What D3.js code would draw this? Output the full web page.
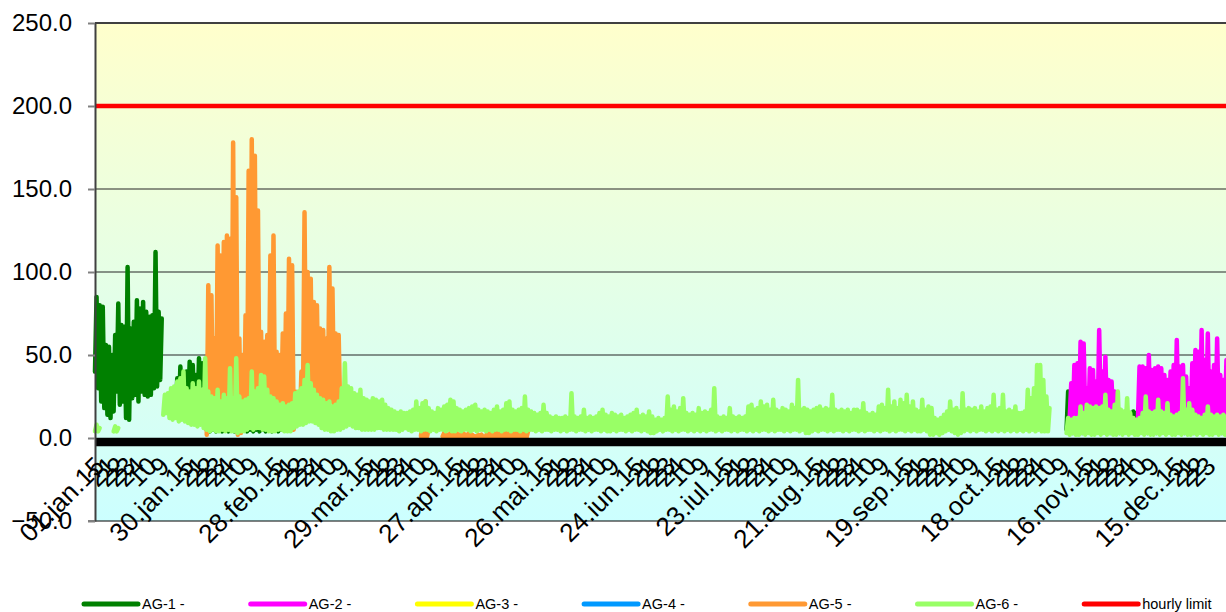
<!DOCTYPE html>
<html>
<head>
<meta charset="utf-8">
<script src="https://cdn.jsdelivr.net/npm/d3@7"></script>
<style>
  body { margin: 0; background: #fff; }
  svg text { font-family: "Liberation Sans", Arial, sans-serif; }
</style>
</head>
<body>
<div id="chart"></div>
<script>
// axis values
const yTicks = [-50, 0, 50, 100, 150, 200, 250];
const hourlyLimit = 200;
const majorDays = [0, 29, 58, 87, 116, 145, 174, 203, 232, 261, 290, 319, 348];
const majorLabels = ["01.jan.15", "30.jan.15", "28.feb.15", "29.mar.15", "27.apr.15", "26.mai.15",
  "24.iun.15", "23.iul.15", "21.aug.15", "19.sep.15", "18.oct.15", "16.nov.15", "15.dec.15"];
const minorLabels = ["21", "22", "23", "24", "10", "9"];
const minorOffsets = [4, 7, 10, 13, 17, 21];

const seriesNames = ["AG-1 -", "AG-2 -", "AG-3 -", "AG-4 -", "AG-5 -", "AG-6 -", "hourly limit"];
const seriesColors = ["#008000", "#ff00ff", "#ffff00", "#0099ff", "#ff9933", "#99ff66", "#ff0000"];

// daily high / low readings (µg/m3), each block starts at a day of the year
const ag1JanStart = 0;
const ag1JanHi = [85,80,79,56,55,50,62,81,68,67,103,66,70,83,78,82,76,73,74,112,76,72];
const ag1JanLo = [40,30,22,18,14,12,16,28,20,22,12,11,24,26,22,28,26,25,26,30,31,35];

const ag1FebStart = 26;
const ag1FebHi = [36,43,30,40,46,44,38,48,45,47, 9,8,7,8,9,8,7,8,9,8, 7,8,9,8,7,8,9,8,7,8, 8,7,8,9,8];
const ag1FebLo = [14,12,15,12,13,16,14,12,15,14, 5,4,5,4,5,4,5,4,5,4, 5,4,5,4,5,4,5,4,5,4, 5,4,5,4,5];

const ag1DecStart = 313;
const ag1DecHi = [28,14,12,13,12,11,12,13,12,11, 12,13,12,11,12,13,12,11,12,14, 15,16,15,14,12,11,12,13,12,11,
  12,13,14,12,11,12,13,12,11,12, 13,12,11,12,13,14,12,11,12,13, 12,14];
const ag1DecLo = [5,4,3,4,5,3,4,5,3,4, 5,3,4,5,3,4,5,3,4,5, 4,5,4,3,4,5,3,4,5,3,
  4,5,3,4,5,3,4,5,3,4, 5,3,4,5,3,4,5,3,4,5, 3,4];

const ag2NovStart = 314;
const ag2NovHi = [33,44,45,58,57,30,42,41,34,65,40,49,35,34,28];
const ag2NovLo = [12,10,14,11,9,13,10,12,11,9,13,10,12,11,10];

const ag2DecStart = 336;
const ag2DecHi = [43,43,42,50,41,42,43,42,38,35,40,44,59,43,44,37,30,45,53,52,65,47,63,40,44,60,38,35,47];
const ag2DecLo = [12,10,13,11,9,12,14,10,11,13,9,12,10,14,11,12,10,9,13,11,12,10,14,11,12,10,13,11,12];

// AG-3 and AG-4 have no visible data
const ag3Hi = [], ag3Lo = [];
const ag4Hi = [], ag4Lo = [];

const ag5FebStart = 36;
const ag5FebHi = [92,86,60,116,110,118,122,120,178,145,60,50,74,161,180,170,137,64,58,62,110,122,52,50,63,
  75,108,104,28,22,40,136,100,96,82,80,66,65,60,103,90,63,62,25];
const ag5FebLo = [2,8,15,10,18,6,20,15,12,10,2,3,5,10,15,12,20,18,15,22,20,15,12,20,18,
  10,15,5,5,8,10,20,22,15,20,25,20,22,18,20,22,20,18,15];

const ag5AprStart = 105;
const ag5AprHi = [8,22,6];
const ag5AprLo = [1,1,1];

const ag5MayStart = 112;
const ag5MayHi = [3,2,3,2,3,2,3,2,3,2,1,2,2,1,4,5,4,5,6,5,5,4,5,4,3,4,3,4];
const ag5MayLo = [1,0,1,0,1,0,1,0,1,0,1,0,1,0,1,0,1,0,1,0,1,0,1,0,1,0,1,0];

const ag6JanAStart = 0;
const ag6JanAHi = [8, 6];
const ag6JanALo = [4, 4];
const ag6JanBStart = 6;
const ag6JanBHi = [7, 6];
const ag6JanBLo = [4, 4];

const ag6MainStart = 22;
const ag6MainHi = [
  26,27,30,31,34,36,40,30,28,33, 30,34,29,48,28,25,24,29,22,26, 24,42,24,48,25,22,23,24,40,28,
  30,38,37,29,25,24,22,20,21,19, 20,21,27,28,30,35,44,33,29,26, 24,23,21,22,19,20,22,30,45,31,
  30,27,26,29,24,23,22,24,23,22, 23,20,18,17,
  16,15,16,15,15,16,17,22,18,21, 22,18,16,15,18,17,19,20,23,22, 18,17,16,17,18,19,20,17,16,17,
  16,15,17,19,16,17,21,22,17,16, 17,18,25,17,16,15,14,15,20,15, 13,12,13,12,12,13,12,27,13,12,
  13,17,12,13,12,13,15,17,14,13, 15,14,13,14,12,13,14,15,17,13, 14,13,16,13,11,12,11,12,25,17,
  19,16,18,24,15,14,15,14,18,15,
  16,15,17,30,13,12,13,12,18,13, 12,13,12,13,19,20,17,18,22,19, 20,17,23,17,16,18,17,16,20,18,
  35,17,18,17,16,17,18,19,17,18, 17,26,17,16,17,16,17,15,17,17, 16,21,15,14,15,14,19,20,18,29,
  19,22,18,23,21,26,19,22,17,16, 23,17,19,18,12,11,12,14,16,22, 17,18,16,27,17,18,17,18,16,19,
  16,18,19,26,17,18,26,16,17,16, 19,15,15,16,29,24,30,44,44,35, 25,18];
const ag6MainLo = [
  14,15,12,11,12,10,11,10,9,8, 8,7,8,6,5,4,5,4,4,5, 4,5,4,4,3,4,4,5,6,5,
  6,6,5,5,4,4,4,5,5,4, 4,4,6,7,8,8,9,10,10,9, 8,6,5,5,4,4,5,5,6,7,
  8,7,6,6,5,5,5,5,5,6, 6,5,5,5,
  5,5,4,5,6,5,4,5,5,4, 5,5,4,5,4,5,5,4,5,4, 4,5,4,5,5,4,5,4,5,5,
  4,5,4,5,5,4,5,5,4,5, 5,4,5,4,5,5,4,5,4,5, 5,4,5,5,4,5,4,5,5,4,
  5,5,4,5,4,5,5,4,5,4, 4,5,4,5,5,4,5,4,5,5, 4,5,4,3,3,4,5,4,5,5,
  4,5,4,5,5,4,5,4,5,4,
  5,4,5,5,4,5,4,5,5,4, 5,4,5,5,4,5,4,5,4,5, 5,4,5,4,5,5,4,5,4,5,
  5,4,5,3,3,4,5,4,5,5, 4,5,4,5,5,4,5,4,5,5, 4,5,4,5,5,4,5,4,5,5,
  4,5,4,5,5,4,5,4,5,4, 4,5,4,2,2,3,2,3,4,5, 4,3,2,3,4,5,4,5,4,5,
  5,4,5,4,5,4,5,4,5,4, 5,4,5,4,5,4,5,4,5,4, 4,4];

const ag6DecStart = 313;
const ag6DecHi = [12,11,12,12,19,15,20,19,18,19, 18,19,26,17,16,20,28,17,16,24, 15,12,11,12,15,25,16,15,16,23,
  16,15,21,14,13,14,15,36,17,21, 17,14,13,12,14,19,14,13,14,13, 14,13];
const ag6DecLo = [3,2,3,2,2,3,2,3,2,2, 3,2,3,2,3,2,2,3,2,3, 2,3,2,2,3,2,3,2,2,3,
  2,3,2,3,2,2,3,2,3,2, 2,3,2,3,2,3,2,2,3,2, 3,2];

// blocks in drawing order (series index -> colour)
const segments = [
  {s: 0, start: ag1JanStart, hi: ag1JanHi, lo: ag1JanLo},
  {s: 0, start: ag1FebStart, hi: ag1FebHi, lo: ag1FebLo},
  {s: 0, start: ag1DecStart, hi: ag1DecHi, lo: ag1DecLo},
  {s: 1, start: ag2NovStart, hi: ag2NovHi, lo: ag2NovLo},
  {s: 1, start: ag2DecStart, hi: ag2DecHi, lo: ag2DecLo},
  {s: 2, start: 0, hi: ag3Hi, lo: ag3Lo},
  {s: 3, start: 0, hi: ag4Hi, lo: ag4Lo},
  {s: 4, start: ag5FebStart, hi: ag5FebHi, lo: ag5FebLo},
  {s: 4, start: ag5AprStart, hi: ag5AprHi, lo: ag5AprLo},
  {s: 4, start: ag5MayStart, hi: ag5MayHi, lo: ag5MayLo},
  {s: 5, start: ag6JanAStart, hi: ag6JanAHi, lo: ag6JanALo},
  {s: 5, start: ag6JanBStart, hi: ag6JanBHi, lo: ag6JanBLo},
  {s: 5, start: ag6MainStart, hi: ag6MainHi, lo: ag6MainLo},
  {s: 5, start: ag6DecStart, hi: ag6DecHi, lo: ag6DecLo}
].filter(d => d.hi.length > 0);

// settings
const width = 1226, height = 612;
const plot = {left: 95, right: 1226, top: 23, bottom: 521};

const x = d3.scaleLinear().domain([0, 365]).range([95, 1228]);
const y = d3.scaleLinear().domain([-50, 250]).range([plot.bottom, plot.top]);

const svg = d3.select("#chart")
  .append("svg")
  .attr("width", width)
  .attr("height", height)
;

const grad = svg.append("defs")
  .append("linearGradient")
  .attr("id", "bg")
  .attr("x1", 0).attr("y1", 0).attr("x2", 0).attr("y2", 1)
;
grad.append("stop").attr("offset", 0).attr("stop-color", "#ffffcc");
grad.append("stop").attr("offset", 1).attr("stop-color", "#ccffff");

svg.append("rect")
  .attr("x", plot.left)
  .attr("y", plot.top)
  .attr("width", plot.right - plot.left)
  .attr("height", plot.bottom - plot.top)
  .attr("fill", "url(#bg)")
;

// grid
svg.append("g")
  .selectAll("line")
  .data([50, 100, 150])
  .join("line")
  .attr("x1", plot.left)
  .attr("x2", plot.right)
  .attr("y1", d => y(d))
  .attr("y2", d => y(d))
  .attr("stroke", "#262626")
  .attr("stroke-width", 1.2)
;

// series
function toPoints(seg) {
  const pts = [];
  seg.hi.forEach((h, i) => {
    pts.push([seg.start + i, seg.lo[i]]);
    pts.push([seg.start + i + 0.5, h]);
  });
  return pts;
}
const line = d3.line().x(d => x(d[0])).y(d => y(d[1]));

svg.append("g")
  .selectAll("path")
  .data(segments)
  .join("path")
  .attr("d", d => line(toPoints(d)))
  .attr("fill", "none")
  .attr("stroke", d => seriesColors[d.s])
  .attr("stroke-width", 4.5)
  .attr("stroke-linejoin", "round")
  .attr("stroke-linecap", "round")
;

// hourly limit
svg.append("line")
  .attr("x1", plot.left).attr("x2", plot.right)
  .attr("y1", y(hourlyLimit)).attr("y2", y(hourlyLimit))
  .attr("stroke", seriesColors[6])
  .attr("stroke-width", 4.5)
;

// zero line
svg.append("line")
  .attr("x1", plot.left).attr("x2", plot.right)
  .attr("y1", y(0) + 4).attr("y2", y(0) + 4)
  .attr("stroke", "#000")
  .attr("stroke-width", 8.5)
;

// frame
svg.append("line")
  .attr("x1", plot.left).attr("x2", plot.right)
  .attr("y1", y(250)).attr("y2", y(250))
  .attr("stroke", "#404040")
  .attr("stroke-width", 2)
;
svg.append("line")
  .attr("x1", plot.left - 7).attr("x2", plot.right)
  .attr("y1", y(-50)).attr("y2", y(-50))
  .attr("stroke", "#000")
  .attr("stroke-width", 1)
;

const yAxis = svg.append("g")
  .attr("transform", "translate(" + plot.left + ",0)")
  .call(d3.axisLeft(y).tickValues(yTicks).tickFormat(d3.format(".1f")).tickSize(7).tickSizeOuter(0).tickPadding(16))
;
yAxis.select(".domain").attr("stroke", "#404040").attr("stroke-width", 2);
yAxis.selectAll(".tick line").attr("stroke", "#808080").attr("stroke-width", 2);
yAxis.selectAll(".tick text")
  .attr("fill", "#000")
  .style("font-size", "24px")
;

// x labels
const xl = svg.append("g").attr("class", "xlabels").style("font-size", "26px");
const ticks = [];
majorDays.forEach((d, i) => {
  ticks.push({day: d, text: majorLabels[i]});
  minorOffsets.forEach((o, j) => {
    if (d + o <= 358) ticks.push({day: d + o, text: minorLabels[j]});
  });
});
xl.selectAll("text")
  .data(ticks)
  .join("text")
  .attr("transform", d => "translate(" + (x(d.day) - 2) + ",455) rotate(-45)")
  .attr("dy", "0.7em")
  .attr("text-anchor", "end")
  .attr("fill", "#000")
  .text(d => d.text)
;

// legend
const legend = svg.append("g")
  .selectAll("g")
  .data(seriesNames)
  .join("g")
  .attr("transform", (d, i) => "translate(" + (84 + i * 166.7) + ",604)")
;
legend.append("line")
  .attr("x1", 0).attr("x2", 54)
  .attr("stroke", (d, i) => seriesColors[i])
  .attr("stroke-width", 5)
  .attr("stroke-linecap", "round")
;
legend.append("text")
  .attr("x", 58)
  .attr("dy", "0.35em")
  .style("font-size", "14.5px")
  .attr("fill", "#000")
  .text(d => d)
;
</script>
</body>
</html>
